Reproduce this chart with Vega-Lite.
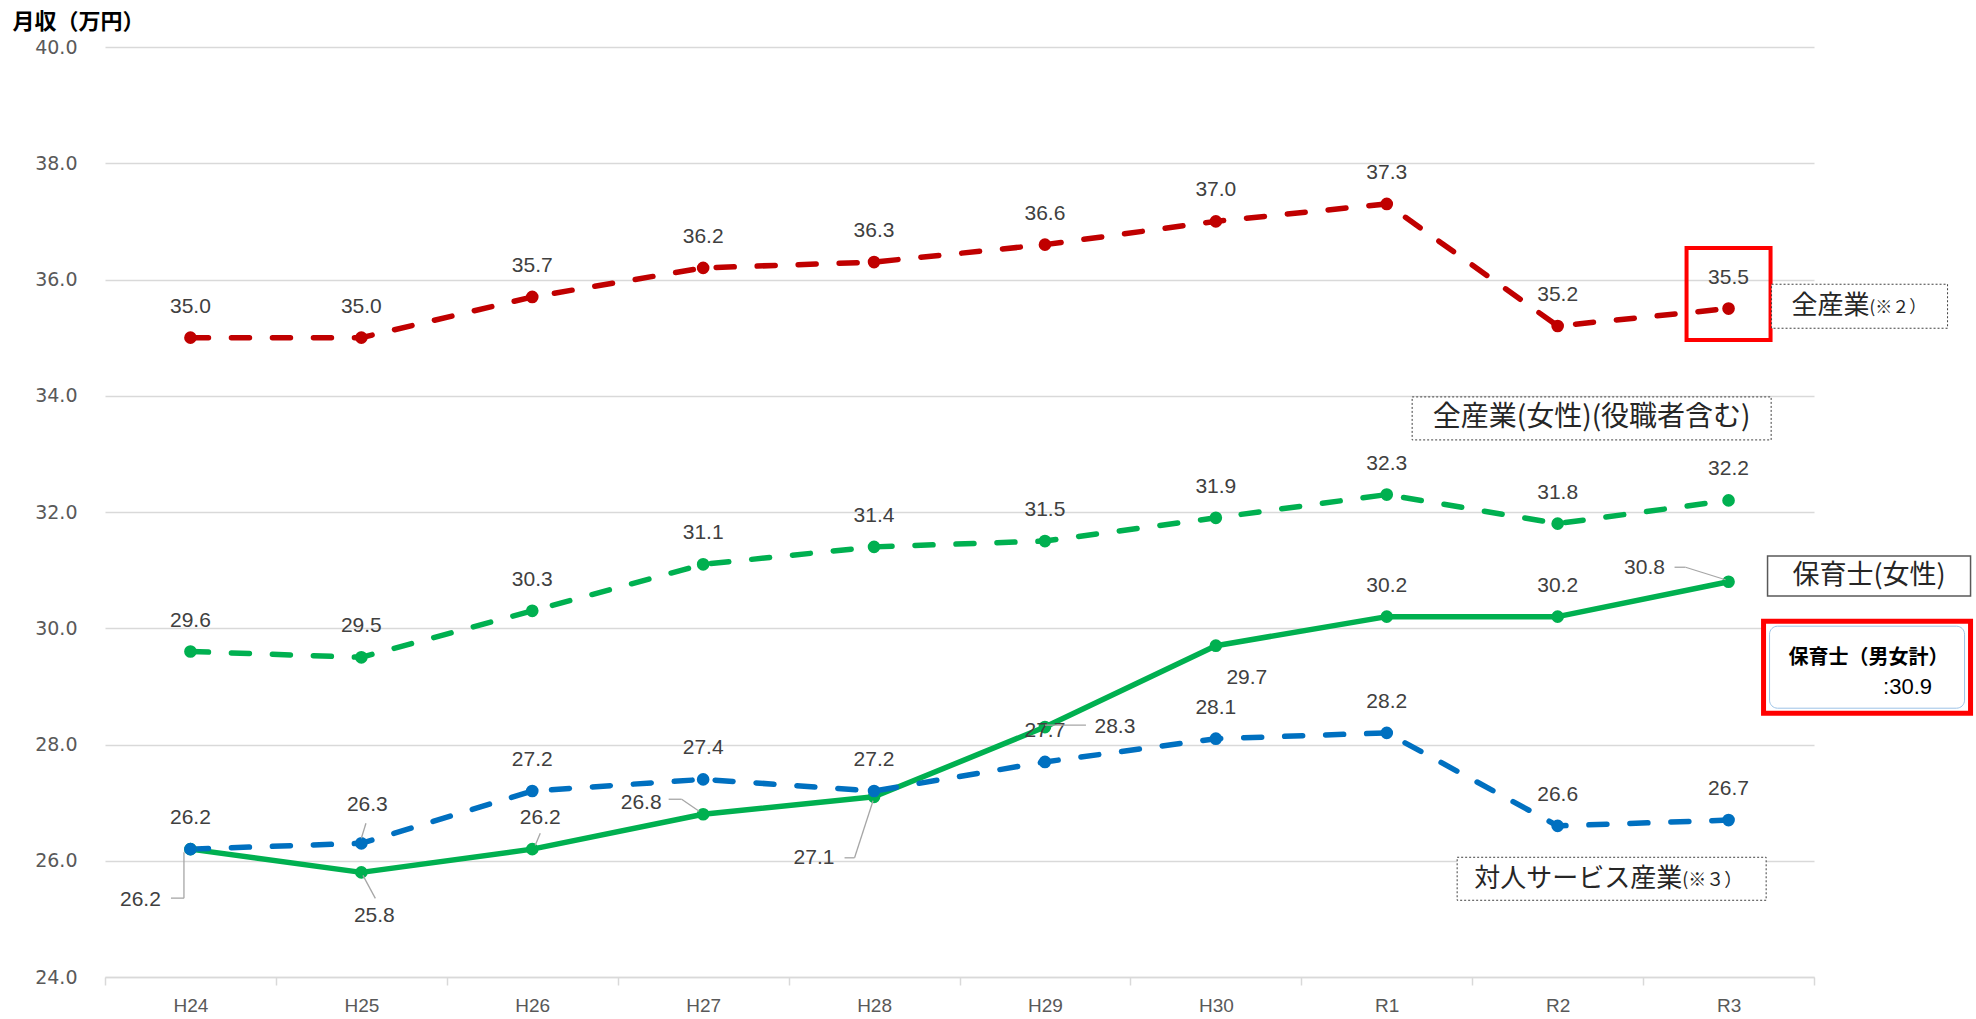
{
  "$schema": "https://vega.github.io/schema/vega-lite/v6.json",
  "width": 1709,
  "height": 930,
  "autosize": {"type": "none"},
  "padding": {"left": 105, "top": 47, "right": 162, "bottom": 42},
  "background": "white",
  "config": {"view": {"stroke": null}, "font": "Liberation Sans"},
  "datasets": {
    "wages": [
      {"year": "H24", "series": "全産業", "value": 35.0},
      {"year": "H25", "series": "全産業", "value": 35.0},
      {"year": "H26", "series": "全産業", "value": 35.7},
      {"year": "H27", "series": "全産業", "value": 36.2},
      {"year": "H28", "series": "全産業", "value": 36.3},
      {"year": "H29", "series": "全産業", "value": 36.6},
      {"year": "H30", "series": "全産業", "value": 37.0},
      {"year": "R1", "series": "全産業", "value": 37.3},
      {"year": "R2", "series": "全産業", "value": 35.2},
      {"year": "R3", "series": "全産業", "value": 35.5},
      {"year": "H24", "series": "全産業(女性)(役職者含む)", "value": 29.6},
      {"year": "H25", "series": "全産業(女性)(役職者含む)", "value": 29.5},
      {"year": "H26", "series": "全産業(女性)(役職者含む)", "value": 30.3},
      {"year": "H27", "series": "全産業(女性)(役職者含む)", "value": 31.1},
      {"year": "H28", "series": "全産業(女性)(役職者含む)", "value": 31.4},
      {"year": "H29", "series": "全産業(女性)(役職者含む)", "value": 31.5},
      {"year": "H30", "series": "全産業(女性)(役職者含む)", "value": 31.9},
      {"year": "R1", "series": "全産業(女性)(役職者含む)", "value": 32.3},
      {"year": "R2", "series": "全産業(女性)(役職者含む)", "value": 31.8},
      {"year": "R3", "series": "全産業(女性)(役職者含む)", "value": 32.2},
      {"year": "H24", "series": "保育士(女性)", "value": 26.2},
      {"year": "H25", "series": "保育士(女性)", "value": 25.8},
      {"year": "H26", "series": "保育士(女性)", "value": 26.2},
      {"year": "H27", "series": "保育士(女性)", "value": 26.8},
      {"year": "H28", "series": "保育士(女性)", "value": 27.1},
      {"year": "H29", "series": "保育士(女性)", "value": 28.3},
      {"year": "H30", "series": "保育士(女性)", "value": 29.7},
      {"year": "R1", "series": "保育士(女性)", "value": 30.2},
      {"year": "R2", "series": "保育士(女性)", "value": 30.2},
      {"year": "R3", "series": "保育士(女性)", "value": 30.8},
      {"year": "H24", "series": "対人サービス産業", "value": 26.2},
      {"year": "H25", "series": "対人サービス産業", "value": 26.3},
      {"year": "H26", "series": "対人サービス産業", "value": 27.2},
      {"year": "H27", "series": "対人サービス産業", "value": 27.4},
      {"year": "H28", "series": "対人サービス産業", "value": 27.2},
      {"year": "H29", "series": "対人サービス産業", "value": 27.7},
      {"year": "H30", "series": "対人サービス産業", "value": 28.1},
      {"year": "R1", "series": "対人サービス産業", "value": 28.2},
      {"year": "R2", "series": "対人サービス産業", "value": 26.6},
      {"year": "R3", "series": "対人サービス産業", "value": 26.7}
    ],
    "one": [{"n": 1}]
  },
  "layer": [
    {
      "data": {"name": "wages"},
      "encoding": {
        "x": {
          "field": "year", "type": "ordinal",
          "sort": ["H24", "H25", "H26", "H27", "H28", "H29", "H30", "R1", "R2", "R3"],
          "scale": {"type": "band", "paddingInner": 0, "paddingOuter": 0},
          "axis": {
            "title": null, "labelAngle": 0, "labelFont": "Liberation Sans", "labelFontSize": 19,
            "labelColor": "#595959", "labelPadding": 11, "domainColor": "#D9D9D9", "domainWidth": 1.5,
            "tickColor": "#D9D9D9", "tickWidth": 1.5, "tickSize": 8, "tickBand": "extent", "grid": false
          }
        },
        "y": {
          "field": "value", "type": "quantitative",
          "scale": {"domain": [24, 40], "nice": false, "zero": false},
          "axis": {
            "title": "月収（万円）", "titleAngle": 0, "titleAlign": "left", "titleBaseline": "alphabetic",
            "titleX": -93, "titleY": -19, "titleFont": "Noto Sans CJK JP", "titleFontSize": 22,
            "titleFontWeight": "bold", "titleColor": "#000000",
            "values": [24, 26, 28, 30, 32, 34, 36, 38, 40], "format": ".1f",
            "labelFont": "DejaVu Sans", "labelFontSize": 19, "labelColor": "#595959", "labelPadding": 28,
            "ticks": false, "domain": false, "gridColor": "#D9D9D9", "gridWidth": 1.5
          }
        },
        "color": {
          "field": "series", "type": "nominal", "legend": null,
          "scale": {
            "domain": ["全産業", "全産業(女性)(役職者含む)", "保育士(女性)", "対人サービス産業"],
            "range": ["#C00000", "#00B050", "#00B050", "#0070C0"]
          }
        }
      },
      "layer": [
        {
          "transform": [{"filter": "datum.series == '保育士(女性)'"}],
          "mark": {"type": "line", "strokeWidth": 5.5, "strokeCap": "round", "strokeJoin": "round"}
        },
        {
          "transform": [{"filter": "datum.series != '保育士(女性)'"}],
          "mark": {"type": "line", "strokeWidth": 5.5, "strokeCap": "round", "strokeDash": [18, 23]}
        },
        {
          "mark": {"type": "point", "filled": true, "opacity": 1, "size": 160, "shape": "circle"}
        },
        {
          "transform": [{"filter": "datum.series != '保育士(女性)' && !(datum.series == '対人サービス産業' && datum.year == 'H25') || (datum.series == '保育士(女性)' && (datum.year == 'R1' || datum.year == 'R2'))"}],
          "mark": {"type": "text", "dy": -31, "fontSize": 21, "font": "Liberation Sans"},
          "encoding": {"text": {"field": "value", "type": "quantitative", "format": ".1f"}, "color": {"value": "#404040"}}
        },
        {
          "transform": [{"filter": "datum.series == '保育士(女性)' && datum.year == 'H24'"}],
          "mark": {"type": "text", "dx": -50, "dy": 51, "fontSize": 21, "font": "Liberation Sans"},
          "encoding": {"text": {"field": "value", "type": "quantitative", "format": ".1f"}, "color": {"value": "#404040"}}
        },
        {
          "transform": [{"filter": "datum.series == '保育士(女性)' && datum.year == 'H25'"}],
          "mark": {"type": "text", "dx": 13, "dy": 44, "fontSize": 21, "font": "Liberation Sans"},
          "encoding": {"text": {"field": "value", "type": "quantitative", "format": ".1f"}, "color": {"value": "#404040"}}
        },
        {
          "transform": [{"filter": "datum.series == '保育士(女性)' && datum.year == 'H26'"}],
          "mark": {"type": "text", "dx": 8, "dy": -31, "fontSize": 21, "font": "Liberation Sans"},
          "encoding": {"text": {"field": "value", "type": "quantitative", "format": ".1f"}, "color": {"value": "#404040"}}
        },
        {
          "transform": [{"filter": "datum.series == '保育士(女性)' && datum.year == 'H27'"}],
          "mark": {"type": "text", "dx": -62, "dy": -11, "fontSize": 21, "font": "Liberation Sans"},
          "encoding": {"text": {"field": "value", "type": "quantitative", "format": ".1f"}, "color": {"value": "#404040"}}
        },
        {
          "transform": [{"filter": "datum.series == '保育士(女性)' && datum.year == 'H28'"}],
          "mark": {"type": "text", "dx": -60, "dy": 61, "fontSize": 21, "font": "Liberation Sans"},
          "encoding": {"text": {"field": "value", "type": "quantitative", "format": ".1f"}, "color": {"value": "#404040"}}
        },
        {
          "transform": [{"filter": "datum.series == '保育士(女性)' && datum.year == 'H29'"}],
          "mark": {"type": "text", "dx": 70, "dy": 0, "fontSize": 21, "font": "Liberation Sans"},
          "encoding": {"text": {"field": "value", "type": "quantitative", "format": ".1f"}, "color": {"value": "#404040"}}
        },
        {
          "transform": [{"filter": "datum.series == '保育士(女性)' && datum.year == 'H30'"}],
          "mark": {"type": "text", "dx": 31, "dy": 32, "fontSize": 21, "font": "Liberation Sans"},
          "encoding": {"text": {"field": "value", "type": "quantitative", "format": ".1f"}, "color": {"value": "#404040"}}
        },
        {
          "transform": [{"filter": "datum.series == '保育士(女性)' && datum.year == 'R3'"}],
          "mark": {"type": "text", "dx": -84, "dy": -14, "fontSize": 21, "font": "Liberation Sans"},
          "encoding": {"text": {"field": "value", "type": "quantitative", "format": ".1f"}, "color": {"value": "#404040"}}
        },
        {
          "transform": [{"filter": "datum.series == '対人サービス産業' && datum.year == 'H25'"}],
          "mark": {"type": "text", "dx": 6, "dy": -38, "fontSize": 21, "font": "Liberation Sans"},
          "encoding": {"text": {"field": "value", "type": "quantitative", "format": ".1f"}, "color": {"value": "#404040"}}
        }
      ]
    },
    {
      "data": {"name": "one"},
      "mark": {"type": "rect", "width": 84, "height": 92, "fill": "transparent", "stroke": "#FF0000", "strokeWidth": 4},
      "encoding": {"x": {"datum": "R3"}, "y": {"datum": 35.75}}
    },
    {
      "data": {"name": "one"},
      "mark": {"type": "rule", "color": "#A6A6A6", "strokeWidth": 1.3, "xOffset": -6.5, "yOffset": 3, "x2Offset": -6.5, "y2Offset": 49},
      "encoding": {"x": {"datum": "H24"}, "x2": {"datum": "H24"}, "y": {"datum": 26.2}, "y2": {"datum": 26.2}}
    },
    {
      "data": {"name": "one"},
      "mark": {"type": "rule", "color": "#A6A6A6", "strokeWidth": 1.3, "xOffset": -6.5, "yOffset": 49, "x2Offset": -19.5, "y2Offset": 49},
      "encoding": {"x": {"datum": "H24"}, "x2": {"datum": "H24"}, "y": {"datum": 26.2}, "y2": {"datum": 26.2}}
    },
    {
      "data": {"name": "one"},
      "mark": {"type": "rule", "color": "#A6A6A6", "strokeWidth": 1.3, "xOffset": 1.6, "yOffset": 3, "x2Offset": 14, "y2Offset": 26},
      "encoding": {"x": {"datum": "H25"}, "x2": {"datum": "H25"}, "y": {"datum": 25.8}, "y2": {"datum": 25.8}}
    },
    {
      "data": {"name": "one"},
      "mark": {"type": "rule", "color": "#A6A6A6", "strokeWidth": 1.3, "xOffset": 3, "yOffset": -4, "x2Offset": 8, "y2Offset": -16},
      "encoding": {"x": {"datum": "H26"}, "x2": {"datum": "H26"}, "y": {"datum": 26.2}, "y2": {"datum": 26.2}}
    },
    {
      "data": {"name": "one"},
      "mark": {"type": "rule", "color": "#A6A6A6", "strokeWidth": 1.3, "xOffset": -34.5, "yOffset": -15, "x2Offset": -21.5, "y2Offset": -15},
      "encoding": {"x": {"datum": "H27"}, "x2": {"datum": "H27"}, "y": {"datum": 26.8}, "y2": {"datum": 26.8}}
    },
    {
      "data": {"name": "one"},
      "mark": {"type": "rule", "color": "#A6A6A6", "strokeWidth": 1.3, "xOffset": -21.5, "yOffset": -15, "x2Offset": -4, "y2Offset": -3},
      "encoding": {"x": {"datum": "H27"}, "x2": {"datum": "H27"}, "y": {"datum": 26.8}, "y2": {"datum": 26.8}}
    },
    {
      "data": {"name": "one"},
      "mark": {"type": "rule", "color": "#A6A6A6", "strokeWidth": 1.3, "xOffset": -29.5, "yOffset": 61, "x2Offset": -19.5, "y2Offset": 61},
      "encoding": {"x": {"datum": "H28"}, "x2": {"datum": "H28"}, "y": {"datum": 27.1}, "y2": {"datum": 27.1}}
    },
    {
      "data": {"name": "one"},
      "mark": {"type": "rule", "color": "#A6A6A6", "strokeWidth": 1.3, "xOffset": -19.5, "yOffset": 61, "x2Offset": -1, "y2Offset": 4},
      "encoding": {"x": {"datum": "H28"}, "x2": {"datum": "H28"}, "y": {"datum": 27.1}, "y2": {"datum": 27.1}}
    },
    {
      "data": {"name": "one"},
      "mark": {"type": "rule", "color": "#A6A6A6", "strokeWidth": 1.3, "xOffset": 0, "yOffset": -2, "x2Offset": 41, "y2Offset": -2},
      "encoding": {"x": {"datum": "H29"}, "x2": {"datum": "H29"}, "y": {"datum": 28.3}, "y2": {"datum": 28.3}}
    },
    {
      "data": {"name": "one"},
      "mark": {"type": "rule", "color": "#A6A6A6", "strokeWidth": 1.3, "xOffset": -54, "yOffset": -14.5, "x2Offset": -43, "y2Offset": -14.5},
      "encoding": {"x": {"datum": "R3"}, "x2": {"datum": "R3"}, "y": {"datum": 30.8}, "y2": {"datum": 30.8}}
    },
    {
      "data": {"name": "one"},
      "mark": {"type": "rule", "color": "#A6A6A6", "strokeWidth": 1.3, "xOffset": -43, "yOffset": -14.5, "x2Offset": -3, "y2Offset": -2},
      "encoding": {"x": {"datum": "R3"}, "x2": {"datum": "R3"}, "y": {"datum": 30.8}, "y2": {"datum": 30.8}}
    },
    {
      "data": {"name": "one"},
      "mark": {"type": "rule", "color": "#A6A6A6", "strokeWidth": 1.3, "xOffset": 4.6, "yOffset": -20, "x2Offset": 0, "y2Offset": -5},
      "encoding": {"x": {"datum": "H25"}, "x2": {"datum": "H25"}, "y": {"datum": 26.3}, "y2": {"datum": 26.3}}
    },
    {
      "data": {"name": "one"},
      "mark": {"type": "rect", "width": 176, "height": 44, "xOffset": 131, "fill": "white", "stroke": "#404040", "strokeWidth": 1, "strokeDash": [2, 2]},
      "encoding": {"x": {"datum": "R3"}, "y": {"datum": 35.54}}
    },
    {
      "data": {"name": "one"},
      "mark": {"type": "text", "text": "全産業", "align": "right", "baseline": "middle", "dx": 141, "fontSize": 26, "font": "Noto Sans CJK JP", "color": "#262626"},
      "encoding": {"x": {"datum": "R3"}, "y": {"datum": 35.54}}
    },
    {
      "data": {"name": "one"},
      "mark": {"type": "text", "text": "(※２）", "align": "left", "baseline": "middle", "dx": 141, "dy": 2, "fontSize": 17, "font": "Noto Sans CJK JP", "color": "#262626"},
      "encoding": {"x": {"datum": "R3"}, "y": {"datum": 35.54}}
    },
    {
      "data": {"name": "one"},
      "mark": {"type": "rect", "width": 359, "height": 43, "xOffset": 34, "fill": "white", "stroke": "#404040", "strokeWidth": 1, "strokeDash": [2, 2]},
      "encoding": {"x": {"datum": "R2"}, "y": {"datum": 33.61}}
    },
    {
      "data": {"name": "one"},
      "mark": {"type": "text", "text": "全産業(女性)(役職者含む)", "align": "center", "baseline": "middle", "dx": 34, "fontSize": 28, "font": "Noto Sans CJK JP", "color": "#262626"},
      "encoding": {"x": {"datum": "R2"}, "y": {"datum": 33.61}}
    },
    {
      "data": {"name": "one"},
      "mark": {"type": "rect", "width": 203, "height": 40, "xOffset": 140.5, "fill": "white", "stroke": "#595959", "strokeWidth": 1.5},
      "encoding": {"x": {"datum": "R3"}, "y": {"datum": 30.9}}
    },
    {
      "data": {"name": "one"},
      "mark": {"type": "text", "text": "保育士(女性)", "align": "center", "baseline": "middle", "dx": 140.5, "fontSize": 27, "font": "Noto Sans CJK JP", "color": "#262626"},
      "encoding": {"x": {"datum": "R3"}, "y": {"datum": 30.9}}
    },
    {
      "data": {"name": "one"},
      "mark": {"type": "rect", "width": 207, "height": 92, "xOffset": 138.5, "fill": "white", "stroke": "#FF0000", "strokeWidth": 5},
      "encoding": {"x": {"datum": "R3"}, "y": {"datum": 29.33}}
    },
    {
      "data": {"name": "one"},
      "mark": {"type": "rect", "width": 195, "height": 82, "xOffset": 138.5, "fill": "white", "stroke": "#9DC3E6", "strokeWidth": 1, "cornerRadius": 8},
      "encoding": {"x": {"datum": "R3"}, "y": {"datum": 29.33}}
    },
    {
      "data": {"name": "one"},
      "mark": {"type": "text", "text": "保育士（男女計）", "align": "center", "baseline": "middle", "dx": 140, "dy": -9, "fontSize": 20, "fontWeight": "bold", "font": "Noto Sans CJK JP", "color": "#000000"},
      "encoding": {"x": {"datum": "R3"}, "y": {"datum": 29.33}}
    },
    {
      "data": {"name": "one"},
      "mark": {"type": "text", "text": ":30.9", "align": "center", "baseline": "middle", "dx": 179, "dy": 20, "fontSize": 22, "font": "Liberation Sans", "color": "#000000"},
      "encoding": {"x": {"datum": "R3"}, "y": {"datum": 29.33}}
    },
    {
      "data": {"name": "one"},
      "mark": {"type": "rect", "width": 309, "height": 43, "xOffset": 54, "fill": "white", "stroke": "#404040", "strokeWidth": 1, "strokeDash": [2, 2]},
      "encoding": {"x": {"datum": "R2"}, "y": {"datum": 25.69}}
    },
    {
      "data": {"name": "one"},
      "mark": {"type": "text", "text": "対人サービス産業", "align": "right", "baseline": "middle", "dx": 124.5, "fontSize": 26, "font": "Noto Sans CJK JP", "color": "#262626"},
      "encoding": {"x": {"datum": "R2"}, "y": {"datum": 25.69}}
    },
    {
      "data": {"name": "one"},
      "mark": {"type": "text", "text": "(※３）", "align": "left", "baseline": "middle", "dx": 124.5, "dy": 2, "fontSize": 18, "font": "Noto Sans CJK JP", "color": "#262626"},
      "encoding": {"x": {"datum": "R2"}, "y": {"datum": 25.69}}
    }
  ]
}
